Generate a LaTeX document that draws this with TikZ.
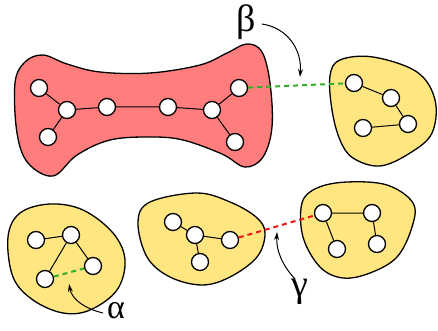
\documentclass[tikz,border=0pt]{standalone}
\usepackage{fontspec}
\newfontfamily\gk{Liberation Serif}
\usetikzlibrary{arrows.meta}
\definecolor{blobred}{RGB}{255,125,125}
\definecolor{blobyel}{RGB}{255,230,128}
\definecolor{dgreen}{RGB}{50,175,40}
\definecolor{dred}{RGB}{240,20,20}
\tikzset{
  vtx/.style={circle,draw,fill=white,minimum size=17pt,inner sep=0pt,line width=1.3pt},
  blob/.style={draw,line width=1.3pt,smooth cycle,tension=0.6},
  edge/.style={line width=1pt},
  gdash/.style={draw=dgreen,line width=2pt,dash pattern=on 5pt off 4pt},
  rdash/.style={draw=dred,line width=2pt,dash pattern=on 5pt off 4pt},
  pointer/.style={line width=1pt,-{Stealth[length=8pt,width=5pt]}},
  glabel/.style={font=\gk\fontsize{38}{38}\selectfont,inner sep=0pt}
}
\begin{document}
\begin{tikzpicture}[x=1pt,y=-1pt]
\useasboundingbox (0,0) rectangle (438,331);
% blobs
\draw[blob,fill=blobred] plot coordinates {(25,62) (43,55) (67,64) (100,72) (150,73) (200,65) (227,53) (247,44) (262,52) (270,83) (272,127) (263,157) (245,167) (222,154) (183,140) (150,137) (110,140) (77,155) (53,176) (28,163) (17,133) (15,83)};
\draw[blob,fill=blobyel] plot coordinates {(330,76) (340,60) (373,57) (417,72) (435,100) (432,133) (410,153) (380,166) (353,158) (340,140) (332,110)};
\draw[blob,fill=blobyel] plot coordinates {(8,237) (20,213) (50,204) (83,210) (113,233) (125,260) (117,290) (90,310) (63,313) (33,300) (13,277)};
\draw[blob,fill=blobyel] plot coordinates {(138,222) (150,202) (197,193) (230,202) (256,217) (265,233) (257,257) (230,277) (202,285) (170,277) (147,257)};
\draw[blob,fill=blobyel] plot coordinates {(302,203) (317,188) (347,182) (387,185) (413,203) (412,227) (397,257) (370,273) (343,278) (320,267) (303,237)};
% red blob graph
\node[vtx] (n1) at (39,88) {};
\node[vtx] (n2) at (67,110) {};
\node[vtx] (n3) at (48,137) {};
\node[vtx] (n4) at (107,107) {};
\node[vtx] (n5) at (168,107) {};
\node[vtx] (n6) at (212,110) {};
\node[vtx] (n7) at (239,88) {};
\node[vtx] (n8) at (235,142) {};
% top-right
\node[vtx] (a1) at (354,83) {};
\node[vtx] (a2) at (391,98) {};
\node[vtx] (a3) at (408,124) {};
\node[vtx] (a4) at (363,128) {};
% bottom-left
\node[vtx] (b1) at (36,240) {};
\node[vtx] (b2) at (71,235) {};
\node[vtx] (b3) at (93,266) {};
\node[vtx] (b4) at (45,279) {};
% bottom-middle
\node[vtx] (c1) at (173,222) {};
\node[vtx] (c2) at (195,235) {};
\node[vtx] (c3) at (230,240) {};
\node[vtx] (c4) at (200,262) {};
% bottom-right
\node[vtx] (d1) at (323,213) {};
\node[vtx] (d2) at (372,213) {};
\node[vtx] (d3) at (337,249) {};
\node[vtx] (d4) at (377,244) {};
% edges
\draw[edge] (n1) -- (n2) (n2) -- (n3) (n2) -- (n4) (n4) -- (n5) (n5) -- (n6) (n6) -- (n7) (n6) -- (n8);
\draw[edge] (a1) -- (a2) (a2) -- (a3) (a3) -- (a4);
\draw[edge] (b1) -- (b2) (b2) -- (b3) (b2) -- (b4);
\draw[edge] (c1) -- (c2) (c2) -- (c3) (c2) -- (c4);
\draw[edge] (d1) -- (d2) (d1) -- (d3) (d2) -- (d4);
% dashed links
\draw[gdash] (n7) -- (a1);
\draw[gdash] (b4) -- (b3);
\draw[rdash] (c3) -- (d1);
% labels
\node[glabel] (beta) at (246,22) {β};
\node[glabel,font=\gk\fontsize{34}{34}\selectfont] (alpha) at (116,311) {α};
\node[glabel] (gamma) at (300,292) {γ};
\coordinate (bs) at (262,24);
\coordinate (be) at (300,77);
\coordinate (as) at (103,313);
\coordinate (ae) at (69,284);
\coordinate (gs) at (295,279);
\coordinate (ge) at (277,232);
\draw[pointer] (bs) .. controls (288,28) and (302,50) .. (be);
\draw[pointer] (as) .. controls (86,309) and (72,300) .. (ae);
\draw[pointer] (gs) .. controls (282,265) and (276,250) .. (ge);
\end{tikzpicture}
\end{document}
